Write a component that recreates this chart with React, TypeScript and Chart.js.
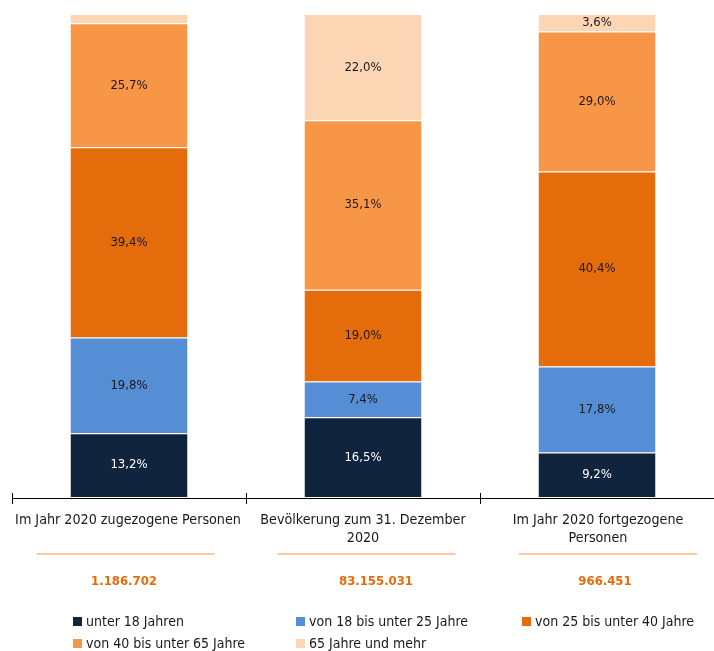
import React, { useEffect, useRef } from "react";
import { Chart, registerables } from "chart.js";

Chart.register(...registerables);

const categoryLines: string[][] = [
  ["Im Jahr 2020 zugezogene Personen"],
  ["Bevölkerung zum 31. Dezember", "2020"],
  ["Im Jahr 2020 fortgezogene", "Personen"],
];
const categories = categoryLines.map((l) => l.join(" "));
const totals = ["1.186.702", "83.155.031", "966.451"];

const seriesNames = [
  "unter 18 Jahren",
  "von 18 bis unter 25 Jahre",
  "von 25 bis unter 40 Jahre",
  "von 40 bis unter 65 Jahre",
  "65 Jahre und mehr",
];
const under18 = [13.2, 16.5, 9.2];
const from18to25 = [19.8, 7.4, 17.8];
const from25to40 = [39.4, 19.0, 40.4];
const from40to65 = [25.7, 35.1, 29.0];
const over65 = [1.9, 22.0, 3.6];
const seriesValues = [under18, from18to25, from25to40, from40to65, over65];
const seriesColors = ["#10243e", "#558ed5", "#e46c0a", "#f79646", "#fcd5b4"];
const labelColors = ["#ffffff", "#1a1a1a", "#1a1a1a", "#1a1a1a", "#1a1a1a"];

const FONT = "'Liberation Sans Narrow', 'DejaVu Sans Condensed', 'Open Sans', sans-serif";

const fmt = (v: number) => v.toFixed(1).replace(".", ",") + "%";

const labelCenters = [128, 363, 598];
const lineCenters = [125.5, 366.5, 608];
const totalCenters = [124, 376, 605];

const overlayPlugin = {
  id: "overlay",
  afterDatasetsDraw(chart: any) {
    const ctx = chart.ctx as CanvasRenderingContext2D;
    const area = chart.chartArea;
    ctx.save();
    // data labels
    ctx.font = `13px ${FONT}`;
    ctx.textAlign = "center";
    ctx.textBaseline = "middle";
    chart.data.datasets.forEach((ds: any, i: number) => {
      const meta = chart.getDatasetMeta(i);
      meta.data.forEach((el: any, j: number) => {
        const v = ds.data[j];
        if (v < 3) return;
        const y = (el.y + el.base) / 2;
        ctx.fillStyle = labelColors[i];
        ctx.fillText(fmt(v), el.x, y);
      });
    });
    // axis line
    const axisY = area.bottom + 1;
    ctx.strokeStyle = "#000000";
    ctx.lineWidth = 1;
    ctx.beginPath();
    ctx.moveTo(area.left, axisY + 0.5);
    ctx.lineTo(area.right, axisY + 0.5);
    const step = (area.right - area.left) / categories.length;
    for (let i = 0; i <= categories.length; i++) {
      const x = Math.round(area.left + step * i) + 0.5;
      ctx.moveTo(x, axisY - 5);
      ctx.lineTo(x, axisY + 6);
    }
    ctx.stroke();
    // category labels, lines, totals
    categoryLines.forEach((lines, i) => {
      ctx.fillStyle = "#1a1a1a";
      ctx.font = `14.2px ${FONT}`;
      lines.forEach((ln, k) => {
        ctx.fillText(ln, labelCenters[i], 520 + k * 18);
      });
      ctx.strokeStyle = "#f8b88a";
      ctx.lineWidth = 1.5;
      ctx.beginPath();
      ctx.moveTo(lineCenters[i] - 89, 554);
      ctx.lineTo(lineCenters[i] + 89, 554);
      ctx.stroke();
      ctx.fillStyle = "#e46c0a";
      ctx.font = `bold 13px ${FONT}`;
      ctx.fillText(totals[i], totalCenters[i], 582);
    });
    // legend
    const legendPos = [
      [73, 622],
      [296, 622],
      [522, 622],
      [73, 644],
      [296, 644],
    ];
    ctx.textAlign = "left";
    ctx.font = `14px ${FONT}`;
    seriesNames.forEach((name, i) => {
      const [lx, ly] = legendPos[i];
      ctx.fillStyle = seriesColors[i];
      ctx.fillRect(lx, ly - 5, 9, 9);
      ctx.fillStyle = "#1a1a1a";
      ctx.fillText(name, lx + 13, ly);
    });
    ctx.restore();
  },
};

export default function App() {
  const ref = useRef<HTMLCanvasElement>(null);
  useEffect(() => {
    if (!ref.current) return;
    const chart = new Chart(ref.current, {
      type: "bar",
      data: {
        labels: categories,
        datasets: seriesNames.map((name, i) => ({
          label: name,
          data: seriesValues[i],
          backgroundColor: seriesColors[i],
          borderColor: "rgba(255,255,255,0.6)",
          borderWidth: { top: 1, bottom: 0, left: 0, right: 0 },
          barPercentage: 0.5,
          categoryPercentage: 1,
        })),
      },
      options: {
        responsive: false,
        animation: false,
        layout: { padding: { left: 12, right: 0, top: 14, bottom: 154 } },
        plugins: { legend: { display: false }, tooltip: { enabled: false } },
        scales: {
          x: { stacked: true, display: false },
          y: { stacked: true, display: false, min: 0, max: 100 },
        },
      },
      plugins: [overlayPlugin],
    });
    return () => chart.destroy();
  }, []);
  return (
    <div style={{ position: "fixed", left: 0, top: 0, width: 714, height: 651, background: "#fff" }}>
      <canvas ref={ref} width={714} height={651} style={{ width: 714, height: 651 }} />
    </div>
  );
}
